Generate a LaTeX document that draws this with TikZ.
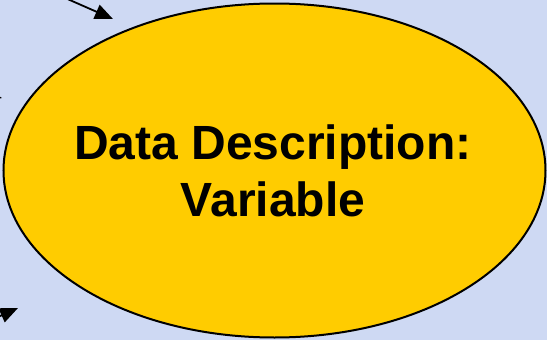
\documentclass[tikz,border=0pt]{standalone}
\usepackage{fontspec}
\setmainfont{Liberation Sans}
\usetikzlibrary{arrows.meta,shapes.geometric}
\definecolor{bgblue}{RGB}{206,217,243}
\definecolor{blobfill}{RGB}{255,204,0}
\tikzset{
  pointer/.style={line width=1.8pt,-{Triangle[length=18pt,width=15pt]}},
  blob/.style={ellipse,draw=black,line width=2pt,fill=blobfill,inner sep=0pt,
               minimum width=542pt,minimum height=334pt},
  caption/.style={font=\bfseries\fontsize{48}{57}\selectfont,align=center,inner sep=0pt}
}
\begin{document}
\begin{tikzpicture}[x=1pt,y=-1pt]
  % canvas
  \fill[bgblue] (0,0) rectangle (547,340);
  \useasboundingbox (0,0) rectangle (547,340);
  \clip (0,0) rectangle (547,340);

  % the central concept
  \node[blob] (topic) at (274.5,170.5) {};
  \node[caption] (label) at (273,171) {Data Description:\\Variable};

  % incoming pointers from outside the frame
  \coordinate (srcA) at (47,-10);
  \coordinate (tipA) at (113,19);
  \coordinate (srcB) at (-30,92);
  \coordinate (tipB) at (2,98);
  \coordinate (srcC) at (-20,325);
  \coordinate (tipC) at (18,308);
  \draw[pointer] (srcA) -- (tipA);
  \draw[pointer] (srcB) -- (tipB);
  \draw[pointer] (srcC) -- (tipC);
\end{tikzpicture}
\end{document}
